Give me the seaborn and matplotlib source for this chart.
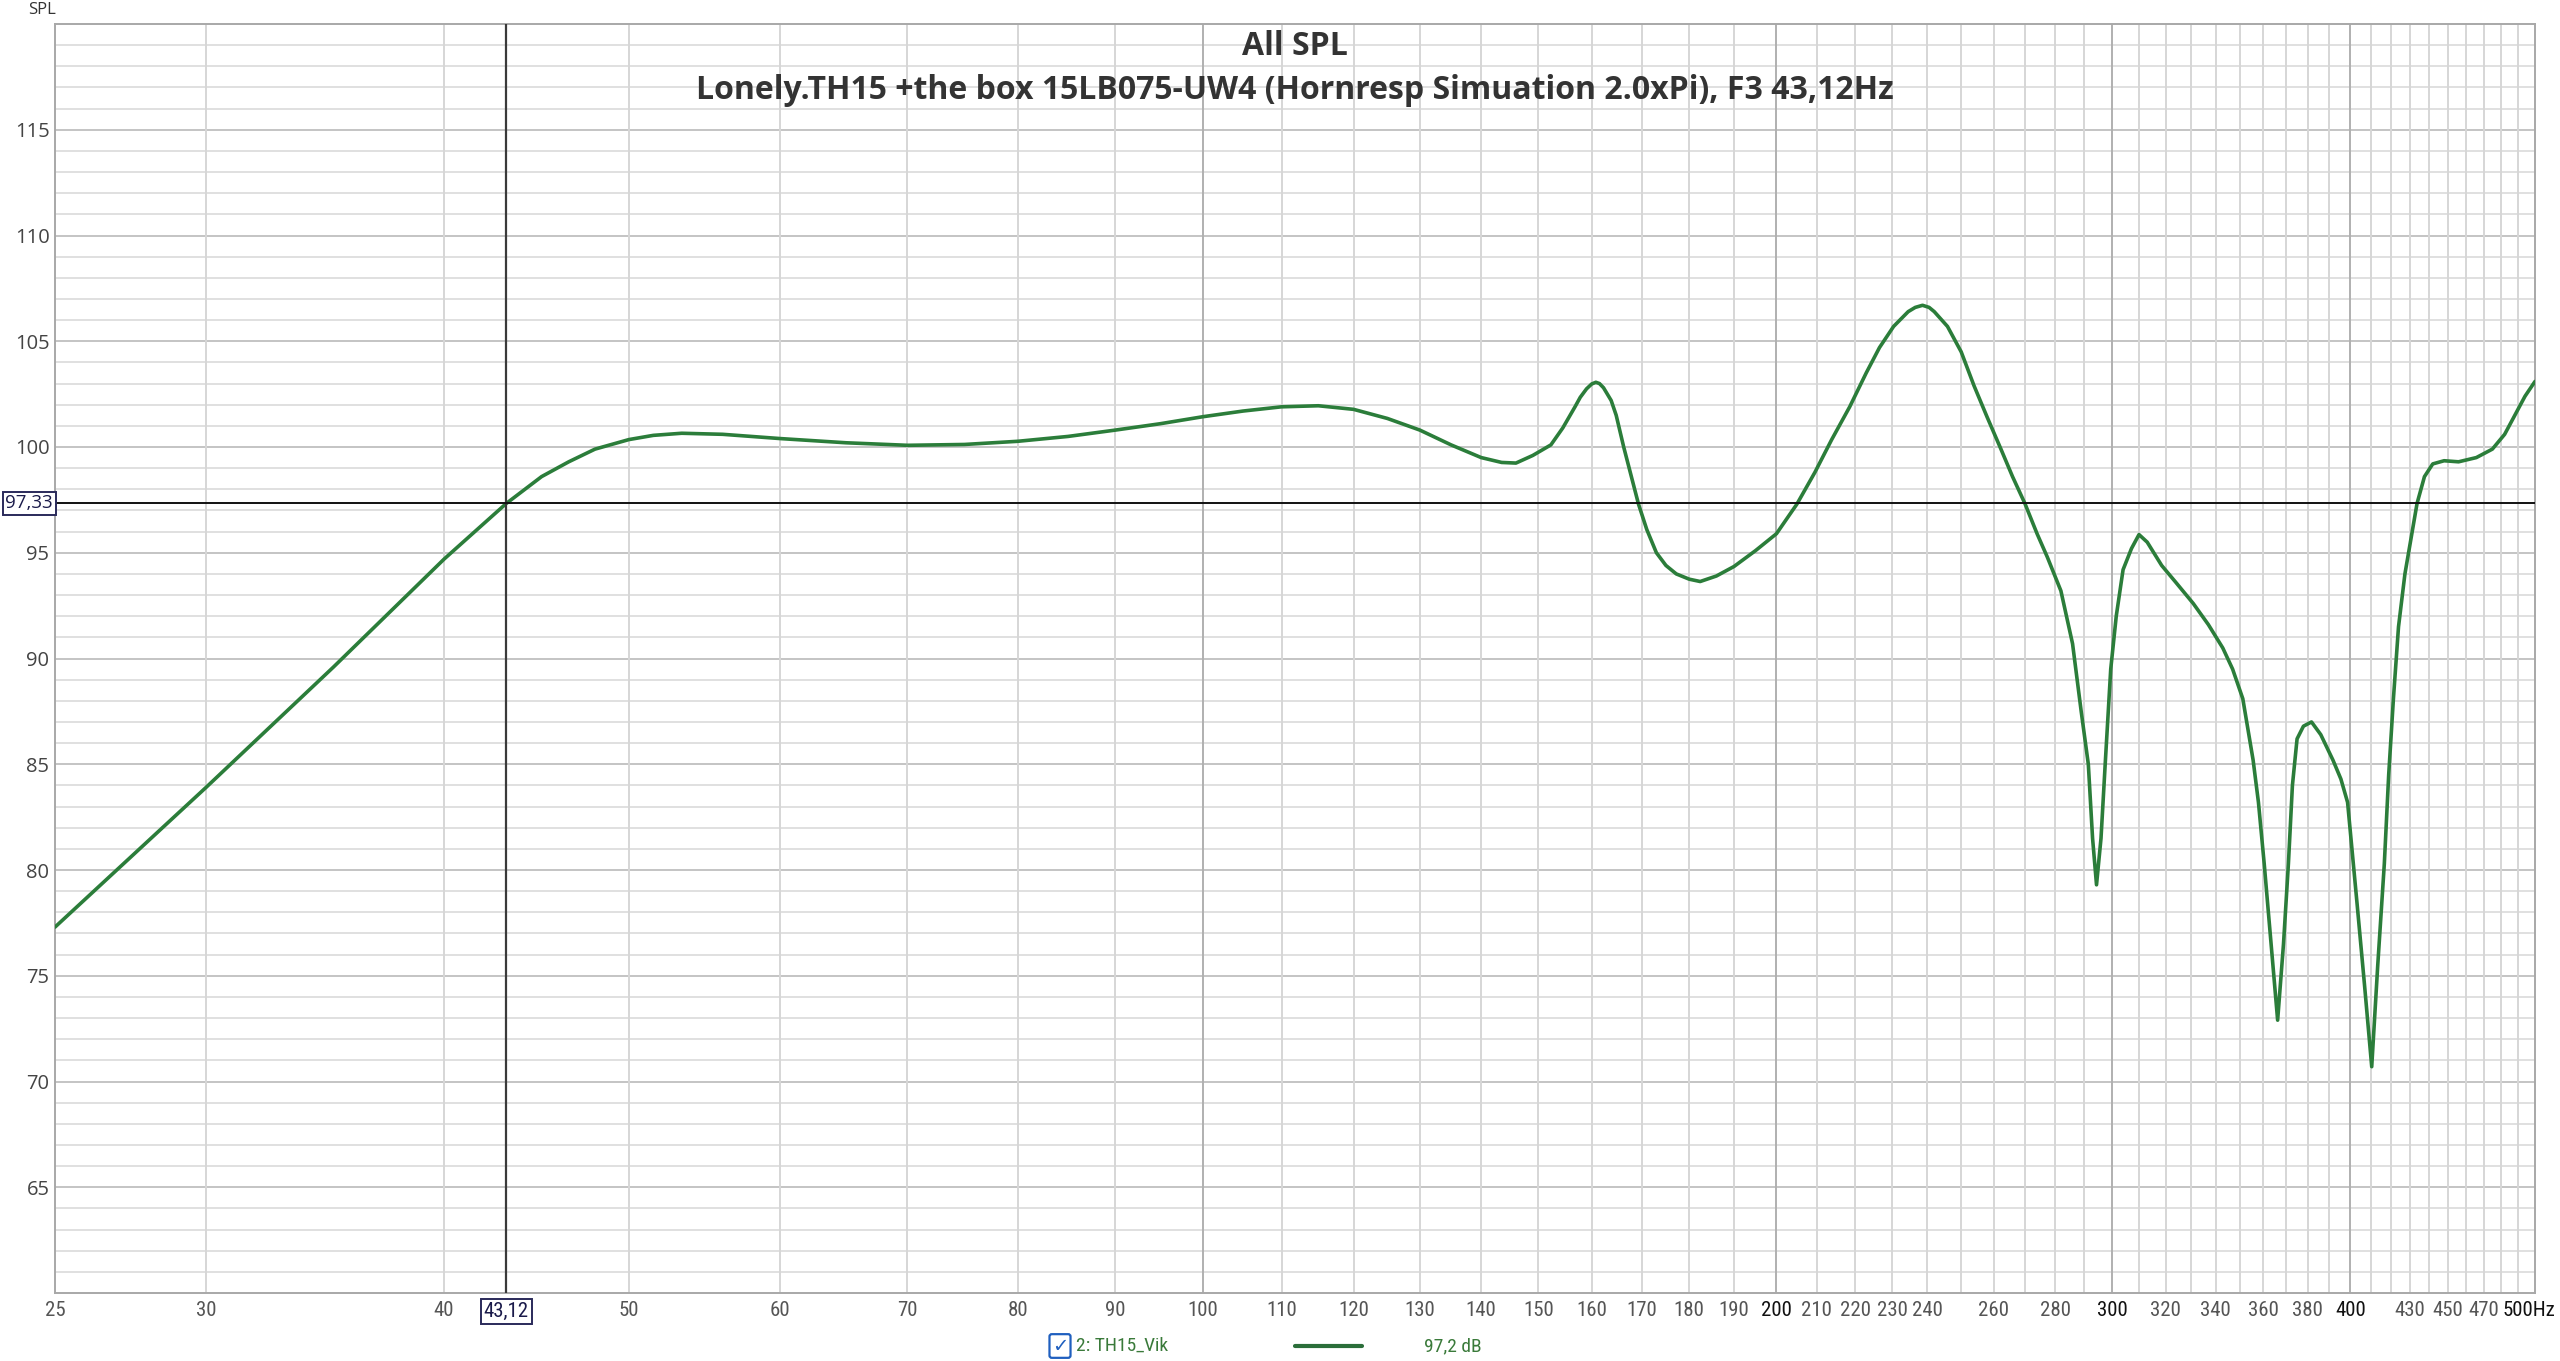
import matplotlib
matplotlib.use("Agg")
from matplotlib import pyplot as plt
from matplotlib import font_manager
import matplotlib.transforms as mtrans
import seaborn as sns
import pandas as pd
import numpy as np

# SPL curve (Hz, dB)
freq_hz = [25, 30, 35, 40, 43.12, 45, 46.5, 48, 50, 51.5, 53.3, 56, 60, 65, 70, 75, 80, 85, 90, 95,
           100, 105, 110, 115, 120, 125, 130, 135, 140, 143.5, 146, 149, 152.3, 154.5, 156.8,
           157.8, 159, 160, 160.8, 161.5, 162.3, 163.8, 164.8, 166.3, 169.3, 171, 173, 175,
           177.2, 180, 182.4, 186, 190, 195, 200, 205, 209.5, 213.8, 218.5, 222.9, 226.5, 230.4,
           234.5, 236.5, 238.6, 240.5, 242, 245.9, 250, 253.9, 258, 262.3, 266, 270, 274, 277.4,
           282, 286, 289, 291.5, 293, 294.4, 296, 297.5, 299.5, 301.5, 304, 307.1, 309.9, 313,
           318.5, 324, 330.9, 337, 342.9, 347, 351.3, 355.7, 358, 360.5, 363.5, 366.4, 369,
           371.2, 373, 375.1, 378, 381.7, 386, 391.7, 395.5, 398.7, 401, 403.4, 407, 410.5,
           413.5, 416.8, 419, 421.4, 424, 427.3, 433.6, 437.5, 441.9, 448, 455.9, 465.8, 474.9,
           482, 488, 494, 500]
spl_db = [77.3, 83.9, 89.6, 94.7, 97.33, 98.6, 99.3, 99.9, 100.35, 100.55, 100.65, 100.6, 100.4,
          100.2, 100.08, 100.12, 100.27, 100.5, 100.8, 101.1, 101.43, 101.7, 101.9, 101.95,
          101.78, 101.35, 100.8, 100.1, 99.5, 99.27, 99.24, 99.6, 100.1, 100.9, 101.9,
          102.35, 102.75, 102.98, 103.06, 103.0, 102.8, 102.2, 101.5, 100.0, 97.3, 96.1, 95.0,
          94.4, 94.0, 93.75, 93.64, 93.9, 94.35, 95.1, 95.9, 97.3, 98.8, 100.35, 101.9, 103.5,
          104.7, 105.7, 106.4, 106.6, 106.7, 106.6, 106.4, 105.7, 104.5, 102.9, 101.4, 99.9,
          98.6, 97.33, 95.9, 94.8, 93.2, 90.7, 87.5, 85.0, 81.5, 79.3, 81.5, 85.0, 89.5,
          92.0, 94.2, 95.2, 95.86, 95.5, 94.4, 93.6, 92.6, 91.6, 90.5, 89.5, 88.1, 85.2, 83.2,
          80.3, 76.5, 72.9, 76.5, 80.3, 84.0, 86.2, 86.8, 87.0, 86.4, 85.2, 84.3, 83.2,
          80.8, 78.3, 74.5, 70.7, 75.5, 80.3, 84.5, 88.1, 91.5, 94.0, 97.33, 98.6, 99.2,
          99.35, 99.3, 99.5, 99.9, 100.6, 101.5, 102.4, 103.1]

x_tick_vals = [25, 30, 40, 50, 60, 70, 80, 90, 100, 110, 120, 130, 140, 150, 160, 170, 180, 190,
               200, 210, 220, 230, 240, 260, 280, 300, 320, 340, 360, 380, 400, 430, 450, 470, 500]
x_tick_text = [str(v) for v in x_tick_vals[:-1]] + ["500Hz"]
x_strong = [200, 300, 400, 500]
y_tick_vals = [65, 70, 75, 80, 85, 90, 95, 100, 105, 110, 115]

cursor_f = 43.12
cursor_db = 97.33
title1 = "All SPL"
title2 = "Lonely.TH15 +the box 15LB075-UW4 (Hornresp Simuation 2.0xPi), F3 43,12Hz"
legend_name = "2: TH15_Vik"
legend_val = "97,2 dB"

sns.set_theme(style="white")

# look for a condensed face for the axis numbers (REW uses a narrow font)
narrow_family, narrow_stretch = "DejaVu Sans", "normal"
fonts = font_manager.fontManager.ttflist
for name in ["Liberation Sans Narrow", "Roboto Condensed", "Open Sans Condensed"]:
    if any(f.name == name for f in fonts):
        narrow_family = name
        break
else:
    if any(f.name == "DejaVu Sans" and f.stretch == "condensed" for f in fonts):
        narrow_stretch = "condensed"
    elif any(f.name == "Roboto" for f in fonts):
        narrow_family = "Roboto"
plt.rcParams["font.family"] = ["Open Sans", "DejaVu Sans"]

df = pd.DataFrame({"freq": freq_hz, "spl": spl_db})

fig = plt.figure(figsize=(25.6, 13.61), dpi=100)
ax = fig.add_axes([55 / 2560, 1 - 1293 / 1361, (2535 - 55) / 2560, (1293 - 24) / 1361])

ax.set_xscale("log")
ax.set_xlim(25, 500)
ax.set_ylim(60, 120)

# grid: 1 dB minor, 5 dB major, verticals every 10 Hz, darker each hundred
for db in range(61, 120):
    c = "#c4c4c4" if db % 5 == 0 else "#e0e0e0"
    ax.axhline(db, color=c, lw=1.4, zorder=0)
for f in range(30, 500, 10):
    c = "#b0b0b0" if f % 100 == 0 else "#d6d6d6"
    ax.axvline(f, color=c, lw=1.4, zorder=0)

sns.lineplot(data=df, x="freq", y="spl", ax=ax, color="#2b7d3a", linewidth=2.6,
             sort=False, zorder=3, legend=False)
ax.lines[-1].set_solid_joinstyle("round")

# cursor
ax.axvline(cursor_f, color="#3a3a3a", lw=1.6, zorder=4)
ax.axhline(cursor_db, color="#111111", lw=1.4, zorder=4)

for s in ax.spines.values():
    s.set_color("#a8a8a8")
    s.set_linewidth(1.4)

ax.set_xticks(x_tick_vals)
ax.set_xticklabels(x_tick_text)
ax.xaxis.set_minor_locator(matplotlib.ticker.NullLocator())
ax.set_yticks(y_tick_vals)
ax.set_yticklabels([str(v) for v in y_tick_vals])
ax.tick_params(axis="both", length=0, pad=6)
ax.tick_params(axis="y", labelsize=14.5, labelcolor="#444444", pad=4)
xlabels = ax.get_xticklabels()
for lab, v in zip(xlabels, x_tick_vals):
    lab.set_family([narrow_family, "DejaVu Sans"])
    lab.set_fontstretch(narrow_stretch)
    lab.set_fontsize(15)
    lab.set_color("#111111" if v in x_strong else "#555555")
# last label sits against the right edge of the window
xlabels[-1].set_horizontalalignment("right")
xlabels[-1].set_transform(xlabels[-1].get_transform() +
                          mtrans.ScaledTranslation(0.2, 0, fig.dpi_scale_trans))
ax.set_xlabel("")
ax.set_ylabel("")

# cursor value boxes
box = dict(boxstyle="square,pad=0.15", fc="white", ec="#2a2a5a", lw=1.4)
ax.text(cursor_f, -0.007, "43,12", transform=ax.get_xaxis_transform(), ha="center", va="top",
        fontsize=15, family=[narrow_family, "DejaVu Sans"], fontstretch=narrow_stretch,
        color="#1a1a4a", bbox=box, zorder=6)
ax.text(-0.0008, cursor_db, "97,33", transform=ax.get_yaxis_transform(), ha="right",
        va="center", fontsize=13.5, color="#1a1a4a", bbox=box, zorder=6, clip_on=False)

# titles inside the plot area
ax.text(0.5, 120 - 1.05, title1, transform=ax.get_yaxis_transform(), ha="center", va="center",
        fontsize=23, fontweight="bold", color="#333333", zorder=5)
ax.text(0.5, 120 - 3.15, title2, transform=ax.get_yaxis_transform(), ha="center", va="center",
        fontsize=23, fontweight="bold", color="#333333", zorder=5)

fig.text(28 / 2560, 1 - 10 / 1361, "SPL", ha="left", va="center", fontsize=12, color="#333333")

# legend row at the bottom
fig.text(1060 / 2560, 1 - 1346 / 1361, "\u2713", ha="center", va="center", fontsize=14,
         color="#1f5fbf", family="DejaVu Sans",
         bbox=dict(boxstyle="round,pad=0.12", fc="white", ec="#1f5fbf", lw=1.6))
fig.text(1076 / 2560, 1 - 1346 / 1361, legend_name, ha="left", va="center", fontsize=14,
         family=[narrow_family, "DejaVu Sans"], fontstretch=narrow_stretch, color="#3a7a3a")
fig.add_artist(matplotlib.lines.Line2D([1295 / 2560, 1362 / 2560], [1 - 1346 / 1361] * 2,
                                       color="#2b6e3a", lw=3, transform=fig.transFigure))
fig.text(1424 / 2560, 1 - 1346 / 1361, legend_val, ha="left", va="center", fontsize=14,
         family=[narrow_family, "DejaVu Sans"], fontstretch=narrow_stretch, color="#3a7a3a")

fig.savefig("out.png", dpi=100, facecolor="white")
